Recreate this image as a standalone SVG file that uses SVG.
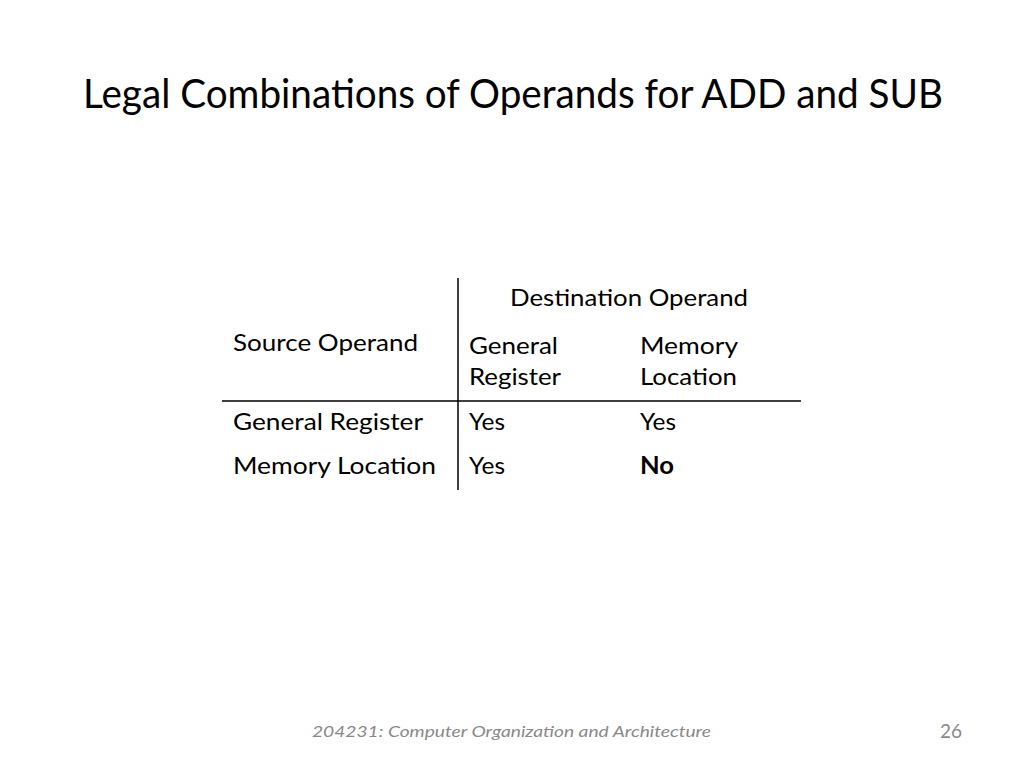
<svg xmlns="http://www.w3.org/2000/svg" width="1024" height="768" viewBox="0 0 1024 768">
<style>
text{font-family:Lato,"Open Sans","Liberation Sans",sans-serif;fill:#000}
.t{font-size:40px}
.c{font-size:24px}
.f{font-size:16px;fill:#898989}
.rule{stroke:#000;stroke-width:1.5;fill:none}
</style>
<rect width="1024" height="768" fill="#fff"/>
<text class="t" x="83" y="108" textLength="860" lengthAdjust="spacingAndGlyphs">Legal Combinations of Operands for ADD and SUB</text>
<g id="table-lines">
<line class="rule" x1="458" y1="278" x2="458" y2="490"/>
<line class="rule" x1="222" y1="401" x2="801" y2="401"/>
</g>
<g id="header">
<text class="c" x="510" y="306" textLength="238" lengthAdjust="spacingAndGlyphs">Destination Operand</text>
<text class="c" x="233" y="351" textLength="185" lengthAdjust="spacingAndGlyphs">Source Operand</text>
<text class="c" x="469" y="354" textLength="89" lengthAdjust="spacingAndGlyphs">General</text>
<text class="c" x="469" y="385" textLength="92" lengthAdjust="spacingAndGlyphs">Register</text>
<text class="c" x="640" y="354" textLength="98" lengthAdjust="spacingAndGlyphs">Memory</text>
<text class="c" x="640" y="385" textLength="97" lengthAdjust="spacingAndGlyphs">Location</text>
</g>
<g id="row1">
<text class="c" x="233" y="430" textLength="190" lengthAdjust="spacingAndGlyphs">General Register</text>
<text class="c" x="469" y="430" textLength="36" lengthAdjust="spacingAndGlyphs">Yes</text>
<text class="c" x="640" y="430" textLength="36" lengthAdjust="spacingAndGlyphs">Yes</text>
</g>
<g id="row2">
<text class="c" x="233" y="474" textLength="203" lengthAdjust="spacingAndGlyphs">Memory Location</text>
<text class="c" x="469" y="474" textLength="36" lengthAdjust="spacingAndGlyphs">Yes</text>
<text class="c" x="640" y="474" font-weight="bold" textLength="34" lengthAdjust="spacingAndGlyphs">No</text>
</g>
<text class="f" x="312" y="737" font-style="italic" textLength="399" lengthAdjust="spacingAndGlyphs">204231: Computer Organization and Architecture</text>
<text class="f" x="962" y="738" font-size="19" style="font-size:19px" text-anchor="end">26</text>
</svg>
